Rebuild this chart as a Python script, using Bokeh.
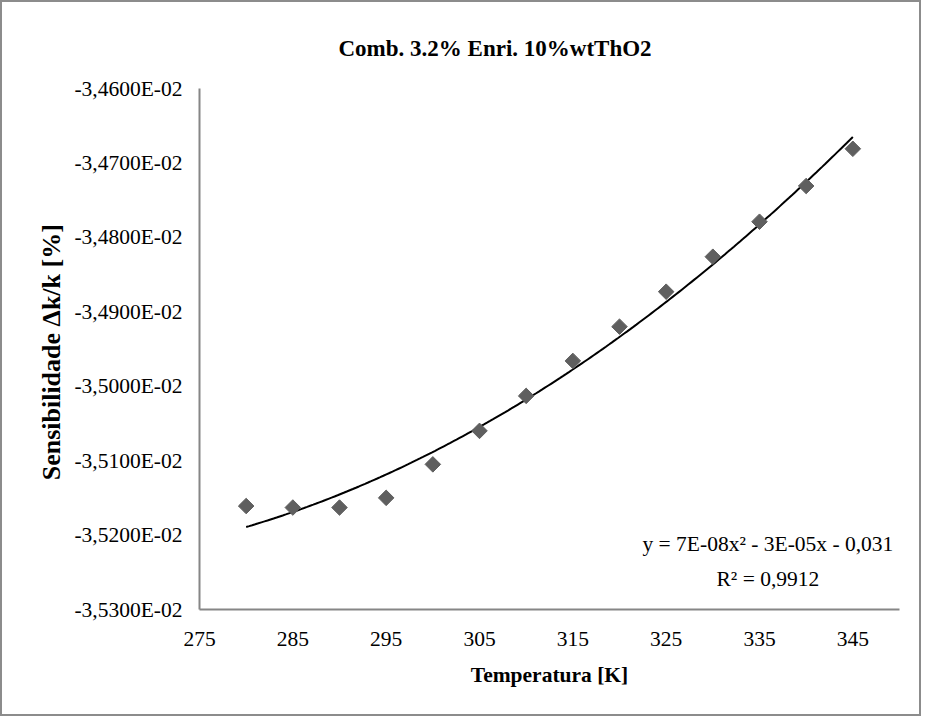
import numpy as np
from bokeh.plotting import figure
from bokeh.models import Range1d, FixedTicker, Label
from bokeh.embed import file_html
from bokeh.resources import INLINE

# ---- data ----
TEMPERATURE = [280, 285, 290, 295, 300, 305, 310, 315, 320, 325, 330, 335, 340, 345]
SENSITIVITY = [-0.035161, -0.035163, -0.035163, -0.035150, -0.035105, -0.035060,
               -0.035013, -0.034966, -0.034920, -0.034873, -0.034826, -0.034779,
               -0.034731, -0.034681]

X_TICKS = [275, 285, 295, 305, 315, 325, 335, 345]
Y_TICKS = [-0.0353, -0.0352, -0.0351, -0.0350, -0.0349, -0.0348, -0.0347, -0.0346]
Y_TICK_LABELS = ["-3,5300E-02", "-3,5200E-02", "-3,5100E-02", "-3,5000E-02",
                 "-3,4900E-02", "-3,4800E-02", "-3,4700E-02", "-3,4600E-02"]

TITLE = "Comb. 3.2% Enri. 10%wtThO2"
X_LABEL = "Temperatura [K]"
Y_LABEL = "Sensibilidade  \u0394k/k [%]"
EQ_TEXT = "y = 7E-08x\u00b2 - 3E-05x - 0,031"
R2_TEXT = "R\u00b2 = 0,9912"

FONT = "Liberation Serif"

p = figure(width=921, height=716, output_backend="svg", toolbar_location=None,
           x_range=Range1d(275, 350), y_range=Range1d(-0.0353, -0.0346),
           min_border_left=197, min_border_right=24, min_border_top=86,
           min_border_bottom=109)
p.styles = {"border": "2px solid #8c8c8c", "box-sizing": "border-box"}

p.outline_line_color = None
p.background_fill_color = "white"
p.border_fill_color = "white"
p.xgrid.grid_line_color = None
p.ygrid.grid_line_color = None

p.title.text = TITLE
p.title.text_font = FONT
p.title.text_font_size = "23px"
p.title.text_font_style = "bold"
p.title.text_color = "black"
p.title.align = "left"
p.title.offset = 139
p.title.standoff = 56

for ax in (p.xaxis[0], p.yaxis[0]):
    ax.axis_line_color = "#868686"
    ax.axis_line_width = 2
    ax.major_tick_line_color = None
    ax.minor_tick_line_color = None
    ax.major_tick_out = 0
    ax.major_tick_in = 0
    ax.minor_tick_out = 0
    ax.minor_tick_in = 0
    ax.major_label_text_font = FONT
    ax.major_label_text_font_size = "21.5px"
    ax.major_label_text_color = "black"
    ax.axis_label_text_font = FONT
    ax.axis_label_text_font_style = "bold"
    ax.axis_label_text_color = "black"

p.xaxis.ticker = FixedTicker(ticks=X_TICKS)
p.xaxis.axis_label = X_LABEL
p.xaxis.axis_label_text_font_size = "21.5px"
p.xaxis.major_label_standoff = 22
p.xaxis.axis_label_standoff = 14

p.yaxis.ticker = FixedTicker(ticks=Y_TICKS)
p.yaxis.major_label_overrides = {t: s for t, s in zip(Y_TICKS, Y_TICK_LABELS)}
p.yaxis.axis_label = Y_LABEL
p.yaxis.axis_label_text_font_size = "26px"
p.yaxis.major_label_standoff = 17
p.yaxis.axis_label_standoff = 5

# polynomial (order 2) trendline fitted to the data
coef = np.polyfit(TEMPERATURE, SENSITIVITY, 2)
xs = np.linspace(TEMPERATURE[0], TEMPERATURE[-1], 200)
p.line(xs, np.polyval(coef, xs), line_color="black", line_width=2)

p.scatter(TEMPERATURE, SENSITIVITY, marker="square", angle=np.pi / 4, size=11,
          fill_color="#5f5f5f", line_color="#5f5f5f")

EQ_X = 335.9
EQ_Y = -0.0352125
R2_Y = -0.0352596
for txt, yy in ((EQ_TEXT, EQ_Y), (R2_TEXT, R2_Y)):
    p.add_layout(Label(x=EQ_X, y=yy, text=txt, text_font=FONT, text_font_size="21.5px",
                       text_align="center", text_baseline="middle", text_color="black"))

open("out.html", "w").write(file_html(p, INLINE))
